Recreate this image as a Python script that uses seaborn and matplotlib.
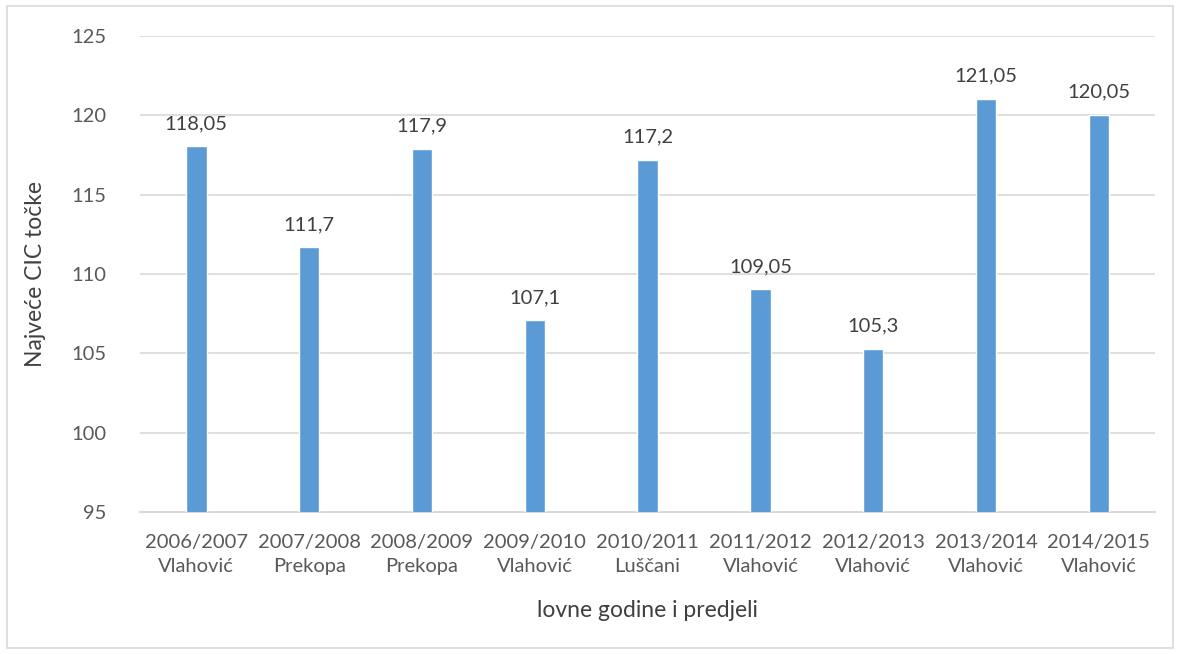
import matplotlib
matplotlib.use("Agg")
import matplotlib.pyplot as plt
import seaborn as sns
import pandas as pd
from matplotlib.patches import Rectangle

seasons = ["2006/2007", "2007/2008", "2008/2009", "2009/2010", "2010/2011",
           "2011/2012", "2012/2013", "2013/2014", "2014/2015"]
areas = ["Vlahović", "Prekopa", "Prekopa", "Vlahović", "Luščani",
         "Vlahović", "Vlahović", "Vlahović", "Vlahović"]
values = [118.05, 111.7, 117.9, 107.1, 117.2, 109.05, 105.3, 121.05, 120.05]
labels = ["118,05", "111,7", "117,9", "107,1", "117,2", "109,05", "105,3", "121,05", "120,05"]

cats = [f"{s}\n{a}" for s, a in zip(seasons, areas)]
df = pd.DataFrame({"cat": cats, "val": values})

sns.set_theme(style="white")
plt.rcParams['font.family'] = ['Lato', 'DejaVu Sans']

fig = plt.figure(figsize=(11.8, 6.54), dpi=100)
ax = fig.add_axes([0.1186, 0.217, 0.979 - 0.1186, 0.945 - 0.217])

sns.barplot(data=df, x="cat", y="val", color="#5B9BD5", width=0.18,
            saturation=1, ax=ax, zorder=3)

ax.set_ylim(95, 125)
ax.set_yticks([95, 100, 105, 110, 115, 120, 125])
ax.yaxis.grid(True, color="#D9D9D9", linewidth=1.2, zorder=0)
ax.set_axisbelow(True)
for s in ["top", "right", "left"]:
    ax.spines[s].set_visible(False)
ax.spines["bottom"].set_color("#D9D9D9")
ax.spines["bottom"].set_linewidth(1.5)
ax.tick_params(axis="both", length=0, labelsize=14.5, colors="#595959")
ax.tick_params(axis="x", pad=16)
ax.tick_params(axis="y", pad=24)
for t in ax.get_xticklabels():
    t.set_linespacing(1.5)

for p, lab in zip(ax.patches, labels):
    ax.annotate(lab, (p.get_x() + p.get_width() / 2, p.get_height()),
                xytext=(0, 10), textcoords="offset points", ha="center", va="bottom",
                fontsize=14.5, color="#404040")

ax.set_xlabel("lovne godine i predjeli", fontsize=16.5, color="#404040", labelpad=18)
ax.set_ylabel("Najveće CIC točke", fontsize=16.5, color="#404040", labelpad=18)

fig.patches.append(Rectangle((7 / 1180, 1 - 648 / 654), 1166 / 1180, 642 / 654,
                             transform=fig.transFigure, fill=False,
                             edgecolor="#D9D9D9", linewidth=1.2))

fig.savefig("out.png", dpi=100)
